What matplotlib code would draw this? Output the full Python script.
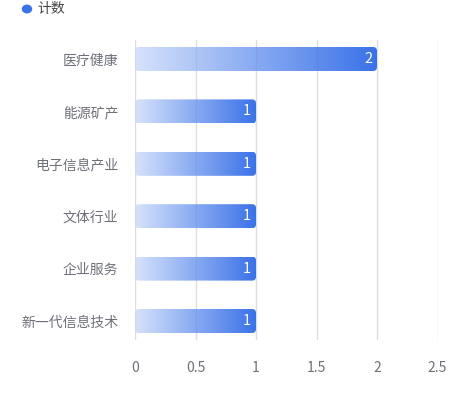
import numpy as np
import matplotlib.pyplot as plt
from matplotlib.patches import FancyBboxPatch
from matplotlib.colors import LinearSegmentedColormap

plt.rcParams['font.family'] = ['Noto Sans CJK SC', 'DejaVu Sans']

# data
categories = ["医疗健康", "能源矿产", "电子信息产业", "文体行业", "企业服务", "新一代信息技术"]
counts = [2, 1, 1, 1, 1, 1]
x_ticks = [0, 0.5, 1, 1.5, 2, 2.5]
x_tick_labels = ["0", "0.5", "1", "1.5", "2", "2.5"]
legend_label = "计数"

BLUE = "#3a72e8"
LIGHT = "#d6e2fb"
GRAY = "#6e7079"
GRID = "#e8e8e8"

W, H = 470, 393
fig = plt.figure(figsize=(W / 100, H / 100), dpi=100)
left, right, top, bottom = 135, 437.5, 40, 340
ax = fig.add_axes([left / W, 1 - bottom / H, (right - left) / W, (bottom - top) / H])

ax.set_xlim(0, 2.5)
ax.set_ylim(5.3626, -0.3626)

px_x = (right - left) / 2.5
px_y = (bottom - top) / 5.725
bar_h = 24 / px_y
radius = 4 / px_x
aspect = px_x / px_y

cmap = LinearSegmentedColormap.from_list("g", [LIGHT, BLUE])
grad = np.linspace(0, 1, 256).reshape(1, -1)

# grid lines, faintly visible through the bars as well
for x in x_ticks:
    ax.axvline(x, color=GRID, lw=1, zorder=0)
    ax.axvline(x, color="black", alpha=0.04, lw=1, zorder=2.5)

for i, v in enumerate(counts):
    y0 = i - bar_h / 2
    patch = FancyBboxPatch((0, y0), v, bar_h,
                           boxstyle=f"round,pad=0,rounding_size={radius}",
                           mutation_aspect=aspect, fc="none", ec="none")
    ax.add_patch(patch)
    im = ax.imshow(grad, cmap=cmap, aspect="auto", extent=(0, v, y0 + bar_h, y0),
                   zorder=2, interpolation="bicubic")
    im.set_clip_path(patch)
    ax.text(v - 0.04, i, str(v), color="white", fontsize=10.5, ha="right",
            va="center", zorder=3)

ax.set_xlim(0, 2.5)
ax.set_ylim(5.3626, -0.3626)
ax.set_yticks(range(len(categories)))
ax.set_yticklabels(categories)
ax.set_xticks(x_ticks)
ax.set_xticklabels(x_tick_labels)
ax.tick_params(axis="y", length=0, pad=12, labelcolor=GRAY, labelsize=10)
ax.tick_params(axis="x", length=0, pad=15, labelcolor=GRAY, labelsize=10)
for s in ax.spines.values():
    s.set_visible(False)

# legend
fig.patches.append(plt.Circle((27 / W, 1 - 9 / H), 4.5 / W, transform=fig.transFigure,
                              color=BLUE))
fig.text(37 / W, 1 - 9 / H, legend_label, fontsize=10, color="#444444",
         va="center", ha="left")

fig.savefig("out.png", dpi=100)
